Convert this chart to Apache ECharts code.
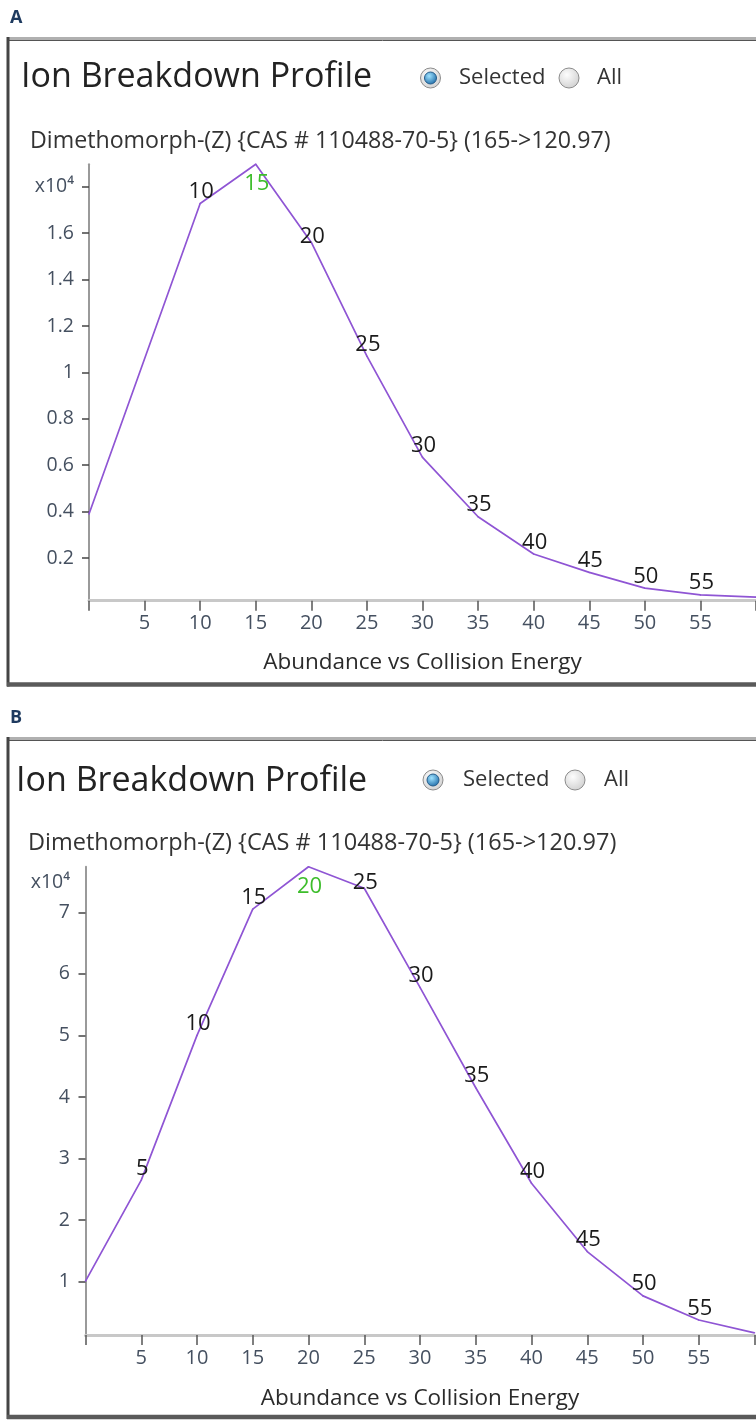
<!DOCTYPE html>
<html><head><meta charset="utf-8">
<script src="https://cdn.jsdelivr.net/npm/echarts@6/dist/echarts.min.js"></script>
<style>html,body{margin:0;padding:0;background:#fff;}#c{width:756px;height:1420px;}</style>
</head><body><div id="c"></div>
<script>
// ---- data (abundance in units of 10^4) ----
const energiesA = [0, 10, 15, 20, 25, 30, 35, 40, 45, 50, 55, 60];
const abundanceA = [0.39, 1.728, 1.897, 1.56, 1.07, 0.634, 0.378, 0.217, 0.138, 0.07, 0.041, 0.031];
const energiesB = [0, 5, 10, 15, 20, 25, 30, 35, 40, 45, 50, 55, 60];
const abundanceB = [1.01, 2.65, 5.0, 7.05, 7.74, 7.39, 5.78, 4.15, 2.6, 1.49, 0.77, 0.378, 0.17];
const yTicksA = [0.2, 0.4, 0.6, 0.8, 1, 1.2, 1.4, 1.6, 1.8];
const yLabelsA = ['0.2', '0.4', '0.6', '0.8', '1', '1.2', '1.4', '1.6', 'x10\u2074'];
const yTicksB = [1, 2, 3, 4, 5, 6, 7];
const yLabelsB = ['1', '2', '3', '4', '5', '6', '7'];
const xTicks = [0, 5, 10, 15, 20, 25, 30, 35, 40, 45, 50, 55, 60];
const xLabels = [5, 10, 15, 20, 25, 30, 35, 40, 45, 50, 55];
const titleText = 'Ion Breakdown Profile';
const compoundText = 'Dimethomorph-(Z) {CAS # 110488-70-5} (165->120.97)';
const xAxisTitle = 'Abundance vs Collision Energy';
const panelLetters = ['A', 'B'];

const FONT = "'Open Sans', 'Noto Sans', sans-serif";
const LINE = '#8f55d4';
const TICKLBL = '#455060';

function buildData(xs, ys) {
  let peak = 0;
  ys.forEach((v, i) => { if (v > ys[peak]) peak = i; });
  return xs.map((x, i) => {
    const item = { value: [x, ys[i]] };
    if (i === 0 || i === xs.length - 1) item.label = { show: false };
    else if (i === peak) item.label = { position: 'bottom', distance: 8, color: '#3dbd2b' };
    else if (i === peak + 1) item.label = { offset: [1, 6] };
    return item;
  });
}
function labelFrom(ticks, labels) {
  return v => { const k = ticks.findIndex(t => Math.abs(t - v) < 1e-9); return k >= 0 ? labels[k] : ''; };
}
function xAxisOf(gi, gap) {
  return {
    type: 'value', gridIndex: gi, min: xTicks[0], max: xTicks[xTicks.length - 1],
    axisLine: { show: true, lineStyle: { color: '#c8c8c8', width: 3 } },
    axisTick: { show: true, customValues: xTicks, length: 10, lineStyle: { color: '#555', width: 1.5 } },
    axisLabel: { customValues: xLabels, color: TICKLBL, fontFamily: FONT, fontSize: 20, margin: 13 },
    splitLine: { show: false },
    name: xAxisTitle, nameLocation: 'middle', nameGap: gap,
    nameTextStyle: { color: '#2b2b2b', fontFamily: FONT, fontSize: 22.5 }
  };
}
function yAxisOf(gi, min, max, ticks, labels, off) {
  return {
    type: 'value', gridIndex: gi, min: min, max: max, offset: off,
    axisLine: { show: true, lineStyle: { color: '#9a9a9a', width: 2 } },
    axisTick: { show: true, customValues: ticks, length: 7, lineStyle: { color: '#444', width: 1.5 } },
    axisLabel: { customValues: ticks, formatter: labelFrom(ticks, labels), color: TICKLBL, fontFamily: FONT, fontSize: 19.5, margin: 12 },
    splitLine: { show: false }
  };
}
function seriesOf(gi, xs, ys) {
  return {
    type: 'line', xAxisIndex: gi, yAxisIndex: gi, data: buildData(xs, ys),
    symbol: 'circle', symbolSize: 1.5, showSymbol: true, clip: false,
    lineStyle: { color: LINE, width: 1.7 }, itemStyle: { color: LINE },
    label: { show: true, position: 'top', distance: 0, offset: [1, 0], color: '#1a1a1a', fontFamily: FONT, fontSize: 22,
      formatter: p => String(p.value[0]) },
    emphasis: { disabled: true }
  };
}
function radio(cx, cy, selected) {
  const els = [{
    type: 'circle', shape: { cx: cx, cy: cy, r: 10 },
    style: { fill: new echarts.graphic.RadialGradient(0.4, 0.35, 0.8, [{ offset: 0, color: '#fdfdfd' }, { offset: 1, color: '#c9c9c9' }]), stroke: '#8c8c8c', lineWidth: 1 }
  }];
  if (selected) els.push({
    type: 'circle', shape: { cx: cx, cy: cy, r: 6 },
    style: { fill: new echarts.graphic.RadialGradient(0.4, 0.35, 0.75, [{ offset: 0, color: '#9ee2ff' }, { offset: 1, color: '#12609f' }]), stroke: '#245c8a', lineWidth: 1 }
  });
  return els;
}
function text(x, y, t, size, color, weight, align) {
  return { type: 'text', x: x, y: y, style: { text: t, fontFamily: FONT, fontSize: size, fontWeight: weight || 'normal', fill: color, align: align || 'left', verticalAlign: 'middle' } };
}
function frame(top, bottom) {
  return [
    { type: 'line', shape: { x1: 7, y1: top - 1.5, x2: 756, y2: top - 1.5 }, style: { stroke: '#b0b0b0', lineWidth: 3 } },
    { type: 'line', shape: { x1: 9, y1: top + 0.5, x2: 756, y2: top + 0.5 }, style: { stroke: '#555', lineWidth: 1 } },
    { type: 'line', shape: { x1: 8, y1: top - 3, x2: 8, y2: bottom + 2 }, style: { stroke: '#444', lineWidth: 3 } },
    { type: 'line', shape: { x1: 7, y1: bottom, x2: 756, y2: bottom }, style: { stroke: '#5a5a5a', lineWidth: 4.5 } }
  ];
}

const graphics = [].concat(
  frame(40, 684.5), frame(740, 1417),
  [text(10, 18, panelLetters[0], 18, '#1e3a5f', 'bold'), text(10, 718, panelLetters[1], 18, '#1e3a5f', 'bold')],
  [text(21, 77, titleText, 34, '#222'), text(16, 781, titleText, 34, '#222')],
  radio(430.5, 78, true), radio(569, 78, false), radio(433, 780, true), radio(575, 780, false),
  [text(459, 78, 'Selected', 22, '#333'), text(597, 78, 'All', 22, '#333'),
   text(463, 780, 'Selected', 22, '#333'), text(604, 780, 'All', 22, '#333')],
  [text(30, 141, compoundText, 23.2, '#333'), text(28, 843, compoundText, 23.5, '#333')],
  [text(70, 882, 'x10\u2074', 19.5, TICKLBL, 'normal', 'right')]
);

const chart = echarts.init(document.getElementById('c'), null, { renderer: 'canvas' });
chart.setOption({
  animation: false,
  backgroundColor: '#fff',
  grid: [
    { left: 89, top: 164.3, width: 667, height: 436.4 },
    { left: 85.5, top: 866.7, width: 669, height: 468.3 }
  ],
  xAxis: [xAxisOf(0, 50), xAxisOf(1, 52)],
  yAxis: [yAxisOf(0, 0.016, 1.897, yTicksA, yLabelsA, 3), yAxisOf(1, 0.135, 7.74, yTicksB, yLabelsB, 3.5)],
  series: [seriesOf(0, energiesA, abundanceA), seriesOf(1, energiesB, abundanceB)],
  graphic: graphics
});
</script></body></html>
